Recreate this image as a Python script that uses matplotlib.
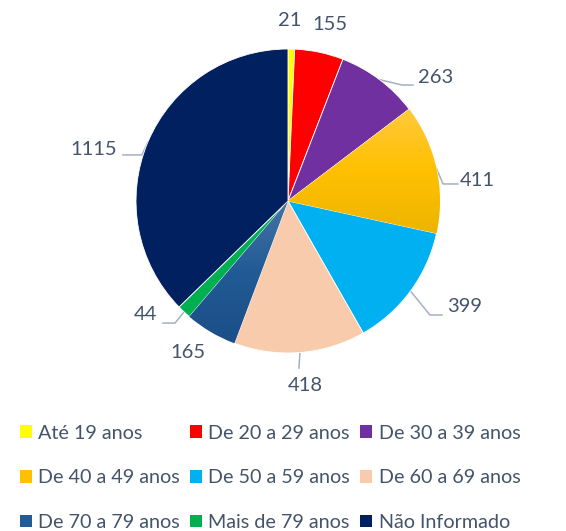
import numpy as np
import matplotlib.pyplot as plt
from matplotlib.colors import LinearSegmentedColormap

plt.rcParams['font.family'] = ['Lato', 'DejaVu Sans']

categories = ['Até 19 anos', 'De 20 a 29 anos', 'De 30 a 39 anos',
              'De 40 a 49 anos', 'De 50 a 59 anos', 'De 60 a 69 anos',
              'De 70 a 79 anos', 'Mais de 79 anos', 'Não Informado']
values = [21, 155, 263, 411, 399, 418, 165, 44, 1115]
colors = ['#FFFF00', '#FF0000', '#7030A0', '#FFC000', '#00B0F0',
          '#F8CBAD', '#225C96', '#00B050', '#002060']
# gradient fills (top -> bottom) for two slices
gradients = {3: ['#FFC93E', '#FFC000', '#EDB500'],
             6: ['#4674A6', '#215B95', '#1C4E87']}

TXT = '#44546A'
LINE = '#A5B0C0'

# label layout in pie units (radius = 1): text pos, alignment, leader points
label_pos = [(0.013, 1.19, 'center'), (0.276, 1.16, 'center'),
             (0.855, 0.81, 'left'), (1.132, 0.138, 'left'),
             (1.046, -0.697, 'left'), (0.112, -1.211, 'center'),
             (-0.658, -1.0, 'center'), (-0.862, -0.75, 'right'),
             (-1.125, 0.336, 'right')]
leaders = {2: [(0.75, 0.763), (0.822, 0.763)],
           3: [(1.02, 0.112), (1.118, 0.112)],
           4: [(0.934, -0.75), (1.013, -0.75)],
           5: [(0.072, -1.099)],
           7: [(-0.743, -0.803), (-0.822, -0.803)],
           8: [(-0.961, 0.303), (-1.086, 0.303)]}

fig = plt.figure(figsize=(5.66, 5.31), dpi=100)
ax = fig.add_axes([0, 0, 1, 1])

wedges, _ = ax.pie(values, colors=colors, startangle=90, counterclock=False,
                   radius=1, wedgeprops=dict(edgecolor='white', linewidth=0.6))

for i, cols in gradients.items():
    w = wedges[i]
    cmap = LinearSegmentedColormap.from_list('g%d' % i, cols)
    verts = w.get_path().vertices
    y0, y1 = verts[:, 1].min(), verts[:, 1].max()
    x0, x1 = verts[:, 0].min(), verts[:, 0].max()
    grad = np.linspace(0, 1, 256).reshape(-1, 1)
    im = ax.imshow(grad, cmap=cmap, extent=(x0, x1, y0, y1), aspect='auto',
                   zorder=w.get_zorder() + 0.1, origin='upper')
    im.set_clip_path(w)

# leader lines start at the middle of each wedge edge
total = sum(values)
cum = np.cumsum([0] + values[:-1])
for i, v in enumerate(values):
    tx, ty, ha = label_pos[i]
    ax.text(tx, ty, str(v), ha=ha, va='center', fontsize=14.5, color=TXT)
    if i in leaders:
        ang = np.deg2rad(90 - 360 * (cum[i] + v / 2) / total)
        pts = [(np.cos(ang), np.sin(ang))] + leaders[i]
        xs, ys = zip(*pts)
        ax.plot(xs, ys, color=LINE, lw=1.1, zorder=0)

ax.set_aspect('equal')
ax.set_xlim((0 - 288) / 152, (566 - 288) / 152)
ax.set_ylim((201 - 531) / 152, 201 / 152)
ax.axis('off')

order = [0, 3, 6, 1, 4, 7, 2, 5, 8]
leg = ax.legend([wedges[k] for k in order], [categories[k] for k in order],
                ncol=3, loc='upper left', bbox_to_anchor=(0.021, 0.215),
                frameon=False, fontsize=14.2, handlelength=0.62,
                handleheight=0.62, handletextpad=0.32, columnspacing=0.5,
                labelspacing=1.4, borderaxespad=0)
for t in leg.get_texts():
    t.set_color(TXT)
for h in leg.legend_handles:
    h.set_edgecolor('none')

fig.savefig('out.png', dpi=100)
